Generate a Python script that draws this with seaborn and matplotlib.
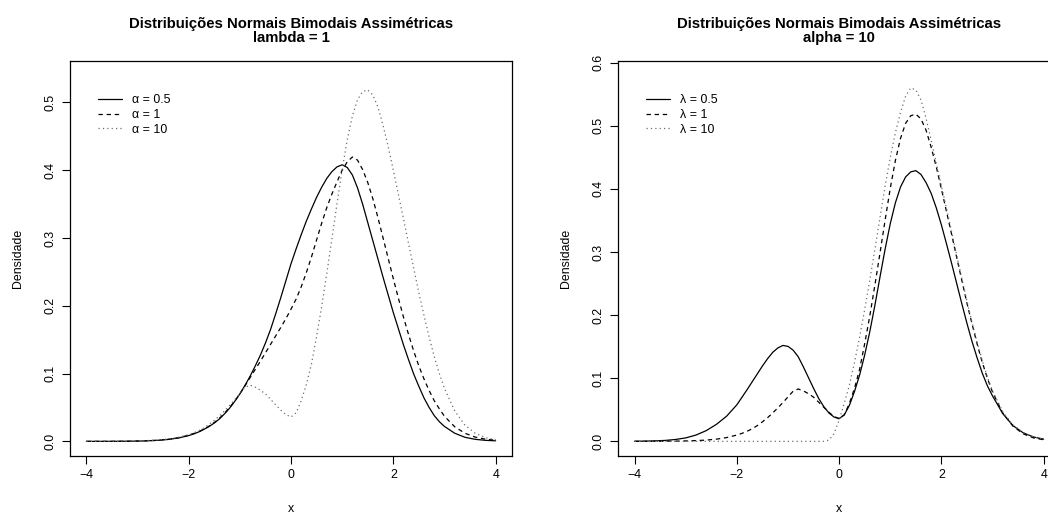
import pandas as pd
import matplotlib
matplotlib.use("Agg")
import matplotlib.pyplot as plt
import seaborn as sns

# === Data ===
# x positions: 0.2 steps in the tails, 0.1 steps where the curves bend
x_grid = ([round(-4 + 0.2 * i, 1) for i in range(10)]
          + [round(-2 + 0.1 * i, 1) for i in range(50)]
          + [round(3 + 0.2 * i, 1) for i in range(6)])

# left panel: lambda = 1, alpha varies
alpha05_lam1 = [0.0000, 0.0000, 0.0000, 0.0001, 0.0002, 0.0004, 0.0008, 0.0015, 0.0028, 0.0050,
                0.0085, 0.0110, 0.0140, 0.0178, 0.0220, 0.0270, 0.0330, 0.0405, 0.0490, 0.0590,
                0.0700, 0.0825, 0.0960, 0.1110, 0.1270, 0.1450, 0.1650, 0.1880, 0.2120, 0.2370,
                0.2620, 0.2840, 0.3050, 0.3250, 0.3430, 0.3600, 0.3750, 0.3880, 0.3980, 0.4050,
                0.4080, 0.4040, 0.3930, 0.3740, 0.3500, 0.3230, 0.2960, 0.2690, 0.2420, 0.2160,
                0.1900, 0.1660, 0.1420, 0.1200, 0.0990, 0.0810, 0.0640, 0.0500, 0.0380, 0.0290,
                0.0220, 0.0120, 0.0060, 0.0030, 0.0015, 0.0008]
alpha1_lam1 = [0.0000, 0.0000, 0.0000, 0.0001, 0.0002, 0.0005, 0.0009, 0.0017, 0.0030, 0.0053,
               0.0090, 0.0115, 0.0145, 0.0180, 0.0225, 0.0278, 0.0340, 0.0415, 0.0500, 0.0595,
               0.0700, 0.0818, 0.0940, 0.1060, 0.1180, 0.1305, 0.1430, 0.1555, 0.1680, 0.1810,
               0.1950, 0.2100, 0.2280, 0.2490, 0.2720, 0.2970, 0.3220, 0.3450, 0.3650, 0.3830,
               0.4000, 0.4125, 0.4195, 0.4150, 0.4010, 0.3820, 0.3580, 0.3300, 0.3000, 0.2700,
               0.2400, 0.2110, 0.1830, 0.1570, 0.1330, 0.1110, 0.0920, 0.0750, 0.0600, 0.0480,
               0.0370, 0.0215, 0.0120, 0.0063, 0.0032, 0.0016]
# alpha = 10, lambda = 1 (the same curve appears in both panels)
alpha10_lam1 = [0.0000, 0.0000, 0.0001, 0.0002, 0.0004, 0.0007, 0.0012, 0.0020, 0.0035, 0.0060,
                0.0100, 0.0127, 0.0160, 0.0200, 0.0250, 0.0310, 0.0375, 0.0450, 0.0530, 0.0615,
                0.0705, 0.0795, 0.0830, 0.0800, 0.0755, 0.0700, 0.0620, 0.0540, 0.0460, 0.0395,
                0.0360, 0.0420, 0.0600, 0.0840, 0.1140, 0.1550, 0.1990, 0.2480, 0.2990, 0.3510,
                0.4010, 0.4450, 0.4800, 0.5040, 0.5160, 0.5185, 0.5110, 0.4930, 0.4660, 0.4350,
                0.4000, 0.3640, 0.3280, 0.2910, 0.2550, 0.2190, 0.1860, 0.1540, 0.1250, 0.1000,
                0.0780, 0.0450, 0.0240, 0.0120, 0.0055, 0.0025]

# right panel: alpha = 10, lambda varies
alpha10_lam05 = [0.0002, 0.0004, 0.0008, 0.0015, 0.0030, 0.0055, 0.0100, 0.0170, 0.0270, 0.0400,
                 0.0580, 0.0700, 0.0820, 0.0945, 0.1070, 0.1195, 0.1310, 0.1410, 0.1480, 0.1520,
                 0.1505, 0.1445, 0.1340, 0.1180, 0.1010, 0.0840, 0.0680, 0.0550, 0.0450, 0.0385,
                 0.0360, 0.0420, 0.0570, 0.0790, 0.1050, 0.1370, 0.1740, 0.2160, 0.2610, 0.3050,
                 0.3450, 0.3780, 0.4030, 0.4190, 0.4270, 0.4290, 0.4230, 0.4100, 0.3930, 0.3700,
                 0.3430, 0.3130, 0.2820, 0.2500, 0.2180, 0.1870, 0.1580, 0.1320, 0.1080, 0.0880,
                 0.0720, 0.0440, 0.0250, 0.0135, 0.0070, 0.0035]
alpha10_lam10 = [0.0000, 0.0000, 0.0000, 0.0000, 0.0000, 0.0000, 0.0000, 0.0000, 0.0000, 0.0000,
                 0.0000, 0.0000, 0.0000, 0.0000, 0.0000, 0.0000, 0.0000, 0.0000, 0.0000, 0.0000,
                 0.0000, 0.0000, 0.0000, 0.0000, 0.0000, 0.0000, 0.0000, 0.0000, 0.0020, 0.0120,
                 0.0340, 0.0600, 0.0890, 0.1250, 0.1650, 0.2090, 0.2560, 0.3050, 0.3550, 0.4050,
                 0.4500, 0.4890, 0.5210, 0.5470, 0.5600, 0.5570, 0.5410, 0.5120, 0.4770, 0.4410,
                 0.4050, 0.3690, 0.3320, 0.2950, 0.2580, 0.2220, 0.1880, 0.1570, 0.1280, 0.1020,
                 0.0800, 0.0470, 0.0260, 0.0140, 0.0070, 0.0035]

left_labels = ["\u03b1 = 0.5", "\u03b1 = 1", "\u03b1 = 10"]
right_labels = ["\u03bb = 0.5", "\u03bb = 1", "\u03bb = 10"]
left_title = "Distribuições Normais Bimodais Assimétricas\nlambda = 1"
right_title = "Distribuições Normais Bimodais Assimétricas\nalpha = 10"

# === Style ===
sns.set_style("ticks")
plt.rcParams["font.family"] = ["Liberation Sans", "DejaVu Sans"]
for key in ["text.color", "axes.labelcolor", "xtick.color", "ytick.color", "axes.edgecolor"]:
    plt.rcParams[key] = "black"

line_styles = [dict(color="black", linestyle="-"),
               dict(color="black", linestyle=(0, (3.5, 3.0))),
               dict(color="#6e6e6e", linestyle=(0, (1.0, 2.5)))]

W, H = 1048, 514
fig = plt.figure(figsize=(W / 100, H / 100), dpi=100)
ax1 = fig.add_axes([70 / W, (H - 456) / H, 442 / W, 395.3 / H])
ax2 = fig.add_axes([618.3 / W, (H - 456) / H, 441.7 / W, 395.3 / H])


def draw_panel(ax, curves, labels, title, ylim, yticks):
    for y, lab, st in zip(curves, labels, line_styles):
        df = pd.DataFrame({"x": x_grid, "dens": y})
        sns.lineplot(data=df, x="x", y="dens", ax=ax, linewidth=0.9,
                     errorbar=None, label=lab, legend=False, **st)
    ax.set_xlim(-4.32, 4.32)
    ax.set_ylim(*ylim)
    ax.set_xticks([-4, -2, 0, 2, 4])
    ax.set_yticks(yticks)
    ax.set_yticklabels([f"{t:.1f}" for t in yticks])
    for lab in ax.get_yticklabels():
        lab.set_rotation(90)
        lab.set_va("center")
    ax.tick_params(direction="out", length=5.5, width=0.8, color="black",
                   labelcolor="black", labelsize=8.9)
    ax.tick_params(axis="x", pad=3.5)
    ax.tick_params(axis="y", pad=4.5)
    for sp in ax.spines.values():
        sp.set_visible(True)
        sp.set_linewidth(0.9)
        sp.set_color("black")
    ax.set_xlabel("x", fontsize=8.9)
    ax.set_ylabel("Densidade", fontsize=8.9)
    ax.xaxis.set_label_coords(0.5, -0.12)
    ax.yaxis.set_label_coords(-0.105, 0.5)
    ax.set_title(title, fontsize=10.7, fontweight="bold", linespacing=0.95, pad=13.5)
    ax.legend(handles=ax.get_lines(), labels=labels, loc="upper left",
              bbox_to_anchor=(0.0627, 0.915), frameon=False, fontsize=8.9,
              handlelength=1.95, handletextpad=0.8, labelspacing=0.22,
              borderpad=0, borderaxespad=0)


draw_panel(ax1, [alpha05_lam1, alpha1_lam1, alpha10_lam1], left_labels, left_title,
           (-0.0216, 0.5616), [0.0, 0.1, 0.2, 0.3, 0.4, 0.5])
draw_panel(ax2, [alpha10_lam05, alpha10_lam1, alpha10_lam10], right_labels, right_title,
           (-0.0232, 0.6032), [0.0, 0.1, 0.2, 0.3, 0.4, 0.5, 0.6])

fig.savefig("out.png", dpi=100)
